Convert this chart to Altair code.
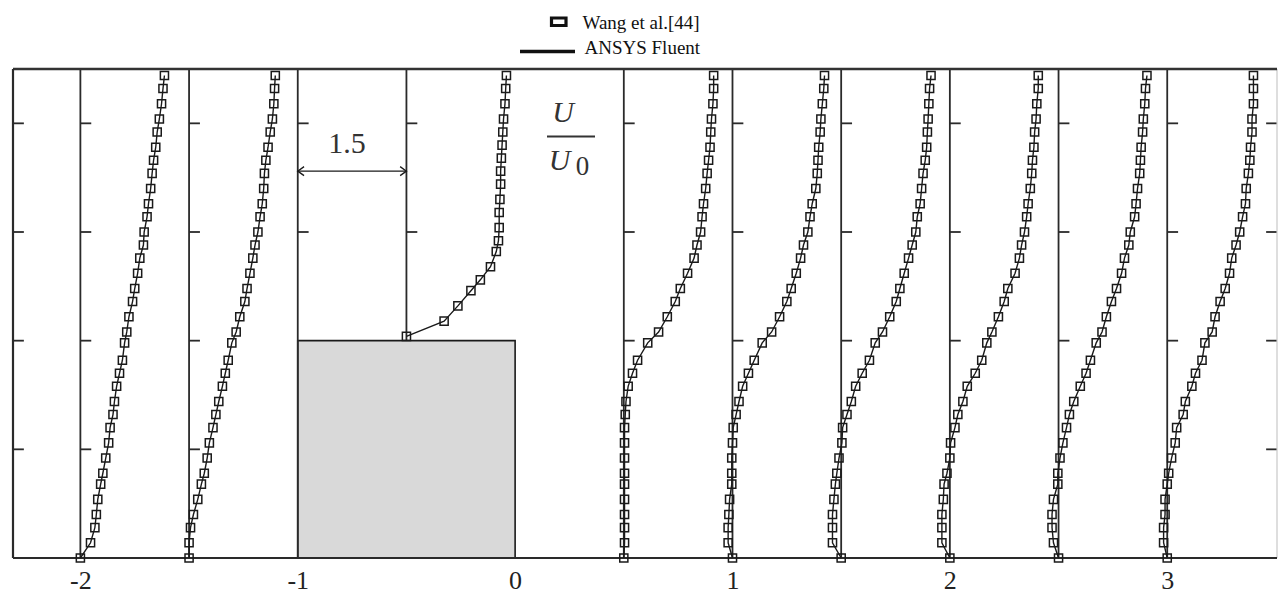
import altair as alt
import pandas as pd

# ---------------------------------------------------------------------------
# Measured / computed streamwise velocity profiles around a surface-mounted
# cube (height H = 1).  Each profile is plotted at its station x/H, shifted by
# U/U0 scaled so that a shift of 0.5 H corresponds to U/U0 = 1.5.
# ---------------------------------------------------------------------------
U_SCALE = 0.5 / 1.5

# measurement heights z/H shared by the approach and wake stations
Z = [0.00, 0.07, 0.14, 0.20, 0.27, 0.34, 0.39, 0.46, 0.53, 0.60, 0.66, 0.72,
     0.79, 0.85, 0.91, 0.99, 1.04, 1.11, 1.18, 1.24, 1.31, 1.38, 1.44, 1.50,
     1.57, 1.63, 1.70, 1.77, 1.83, 1.89, 1.96, 2.02, 2.09, 2.16, 2.22]

# heights above the roof for the station x/H = -0.5
Z_ROOF = [1.02, 1.09, 1.16, 1.23, 1.28, 1.34, 1.41, 1.46, 1.52, 1.59, 1.65,
          1.72, 1.78, 1.84, 1.90, 1.96, 2.02, 2.09, 2.16, 2.22]

U_M20 = [0.00, 0.14, 0.20, 0.22, 0.24, 0.28, 0.31, 0.35, 0.39, 0.41, 0.45, 0.47,
         0.50, 0.54, 0.58, 0.61, 0.64, 0.67, 0.72, 0.75, 0.79, 0.82, 0.87, 0.88,
         0.92, 0.94, 0.97, 0.99, 1.01, 1.04, 1.06, 1.09, 1.12, 1.14, 1.16]
U_M15 = [0.00, 0.00, 0.02, 0.06, 0.12, 0.17, 0.21, 0.25, 0.28, 0.33, 0.37, 0.41,
         0.46, 0.50, 0.54, 0.59, 0.65, 0.70, 0.77, 0.80, 0.84, 0.88, 0.91, 0.95,
         0.98, 1.01, 1.03, 1.04, 1.06, 1.09, 1.12, 1.15, 1.17, 1.18, 1.19]
U_M05 = [0.00, 0.52, 0.71, 0.89, 1.02, 1.16, 1.24, 1.27, 1.28, 1.28, 1.29, 1.30,
         1.30, 1.31, 1.32, 1.33, 1.34, 1.36, 1.37, 1.38]
U_P05 = [0.00, 0.01, 0.01, 0.01, 0.01, 0.01, 0.01, 0.01, 0.01, 0.01, 0.02, 0.03,
         0.06, 0.12, 0.19, 0.33, 0.48, 0.60, 0.71, 0.78, 0.88, 0.97, 1.01, 1.06,
         1.08, 1.10, 1.13, 1.15, 1.17, 1.19, 1.20, 1.21, 1.23, 1.24, 1.24]
U_P10 = [0.00, -0.06, -0.06, -0.05, -0.04, -0.01, -0.01, -0.01, 0.00, 0.01, 0.05,
         0.09, 0.14, 0.22, 0.30, 0.41, 0.54, 0.65, 0.75, 0.81, 0.88, 0.94, 0.98,
         1.04, 1.07, 1.10, 1.15, 1.17, 1.18, 1.19, 1.21, 1.22, 1.24, 1.26, 1.27]
U_P15 = [0.00, -0.12, -0.12, -0.12, -0.10, -0.08, -0.06, -0.03, 0.01, 0.02, 0.08,
         0.14, 0.20, 0.29, 0.39, 0.47, 0.57, 0.67, 0.76, 0.81, 0.87, 0.93, 0.98,
         1.03, 1.05, 1.09, 1.11, 1.13, 1.16, 1.18, 1.19, 1.20, 1.21, 1.22, 1.24]
U_P20 = [0.00, -0.11, -0.11, -0.11, -0.09, -0.08, -0.04, 0.00, 0.01, 0.07, 0.11,
         0.18, 0.24, 0.35, 0.44, 0.51, 0.58, 0.67, 0.75, 0.80, 0.90, 0.96, 0.99,
         1.03, 1.06, 1.08, 1.11, 1.13, 1.14, 1.16, 1.17, 1.19, 1.20, 1.22, 1.22]
U_P25 = [0.00, -0.07, -0.09, -0.09, -0.07, -0.01, -0.01, 0.02, 0.06, 0.11, 0.15,
         0.21, 0.30, 0.38, 0.44, 0.52, 0.60, 0.66, 0.73, 0.80, 0.87, 0.91, 0.97,
         0.99, 1.05, 1.07, 1.09, 1.12, 1.13, 1.14, 1.16, 1.17, 1.19, 1.20, 1.22]
U_P30 = [0.00, -0.05, -0.05, -0.03, -0.03, 0.00, 0.02, 0.06, 0.11, 0.13, 0.22,
         0.25, 0.34, 0.39, 0.48, 0.52, 0.62, 0.66, 0.73, 0.80, 0.86, 0.89, 0.95,
         1.00, 1.04, 1.08, 1.09, 1.12, 1.14, 1.15, 1.17, 1.17, 1.19, 1.19, 1.19]

PROFILES = [
    (-2.0, Z, U_M20), (-1.5, Z, U_M15), (-0.5, Z_ROOF, U_M05),
    (0.5, Z, U_P05), (1.0, Z, U_P10), (1.5, Z, U_P15),
    (2.0, Z, U_P20), (2.5, Z, U_P25), (3.0, Z, U_P30),
]

# station lines: x/H and the height each line starts from
STATIONS = [-2.0, -1.5, -1.0, -0.5, 0.5, 1.0, 1.5, 2.0, 2.5, 3.0]
STATION_BASE = [0, 0, 0, 1, 0, 0, 0, 0, 0, 0]

X_TICKS = [-2, -1, 0, 1, 2, 3]
LEGEND_LABELS = ["Wang et al.[44]", "ANSYS Fluent"]
SCALE_LABEL = "1.5"

X_DOMAIN = [-2.31, 3.505]
Y_DOMAIN = [0.0, 2.25]
W, H = 1264, 489
SERIF = "Liberation Serif"
INK = "#1a1a1a"

xs = alt.Scale(domain=X_DOMAIN, nice=False, zero=False)
ys = alt.Scale(domain=Y_DOMAIN, nice=False, zero=False)

# ---- data frames ----------------------------------------------------------
rows = []
for st, zz, uu in PROFILES:
    for k, (z, u) in enumerate(zip(zz, uu)):
        rows.append({"station": st, "k": k, "z": z, "u": u, "x": st + u * U_SCALE})
prof = pd.DataFrame(rows)

stations = pd.DataFrame({"x": STATIONS, "y": STATION_BASE,
                         "y2": [Y_DOMAIN[1]] * len(STATIONS)})

TICK_LEN = 0.05
tick_rows = []
for lv in [0.5, 1.0, 1.5, 2.0]:
    tick_rows.append({"x": X_DOMAIN[0], "x2": X_DOMAIN[0] + TICK_LEN, "y": lv})
    tick_rows.append({"x": X_DOMAIN[1], "x2": X_DOMAIN[1] - TICK_LEN, "y": lv})
    for st in [-2.0, -1.5]:
        tick_rows.append({"x": st, "x2": st + TICK_LEN, "y": lv})
for lv in [1.5, 2.0]:
    for st in [-1.0, -0.5]:
        tick_rows.append({"x": st, "x2": st + TICK_LEN, "y": lv})
for lv in [1.0, 1.5, 2.0]:
    for st in [0.5, 1.0, 1.5, 2.0, 2.5, 3.0]:
        tick_rows.append({"x": st, "x2": st + TICK_LEN, "y": lv})
ticks = pd.DataFrame(tick_rows)

cube = pd.DataFrame({"x": [-1.0], "x2": [0.0], "y": [0.0], "y2": [1.0]})
one = pd.DataFrame({"k": [0]})

# ---- layers ---------------------------------------------------------------
x_axis = alt.Axis(values=X_TICKS, title=None, grid=False, ticks=False,
                  domain=False, labelFont=SERIF, labelFontSize=26,
                  labelColor="#222", labelPadding=9,
                  labelExpr="datum.value < 0 ? '-' + abs(datum.value) : '' + datum.value")

box = alt.Chart(cube).mark_rect(fill="#d9d9d9", stroke=INK, strokeWidth=1.6).encode(
    x=alt.X("x:Q", scale=xs, axis=x_axis), x2="x2:Q",
    y=alt.Y("y:Q", scale=ys, axis=None), y2="y2:Q")

station_lines = alt.Chart(stations).mark_rule(color="#2a2a2a", strokeWidth=1.8).encode(
    x="x:Q", y="y:Q", y2="y2:Q")

tick_marks = alt.Chart(ticks).mark_rule(color="#2a2a2a", strokeWidth=1.8).encode(
    x="x:Q", x2="x2:Q", y="y:Q")

frame_top = alt.Chart(one).mark_rule(color="#333", strokeWidth=2.6).encode(
    x=alt.value(0), x2=alt.value(W), y=alt.value(0))
frame_bottom = alt.Chart(one).mark_rule(color="#2a2a2a", strokeWidth=2.2).encode(
    x=alt.value(0), x2=alt.value(W), y=alt.value(H))
frame_left = alt.Chart(one).mark_rule(color="#2a2a2a", strokeWidth=2.2).encode(
    x=alt.value(0), y=alt.value(0), y2=alt.value(H))
frame_right = alt.Chart(one).mark_rule(color="#c8c8c8", strokeWidth=1.2).encode(
    x=alt.value(W), y=alt.value(0), y2=alt.value(H))

cfd_lines = alt.Chart(prof).mark_line(color=INK, strokeWidth=1.4).encode(
    x="x:Q", y="z:Q", detail="station:N", order="k:Q")

exp_points = alt.Chart(prof).mark_point(shape="square", filled=False, size=66,
                                        color=INK, strokeWidth=1.5, opacity=1).encode(
    x="x:Q", y="z:Q")

# scale bar: 0.5 H between x/H = -1 and -0.5 stands for U/U0 = 1.5
bar = pd.DataFrame({"x": [-1.0], "x2": [-0.5], "y": [1.78]})
scale_bar = alt.Chart(bar).mark_rule(color=INK, strokeWidth=1.4).encode(
    x="x:Q", x2="x2:Q", y="y:Q")
heads = pd.DataFrame({"x": [-1.0, -0.5], "y": [1.78, 1.78], "side": ["l", "r"]})
head_l = alt.Chart(heads[heads.side == "l"]).mark_point(
    shape="M 1.4 -1 L 0 0 L 1.4 1", size=81, filled=False, color=INK,
    strokeWidth=1.3, opacity=1).encode(x="x:Q", y="y:Q")
head_r = alt.Chart(heads[heads.side == "r"]).mark_point(
    shape="M -1.4 -1 L 0 0 L -1.4 1", size=81, filled=False, color=INK,
    strokeWidth=1.3, opacity=1).encode(x="x:Q", y="y:Q")
scale_text = alt.Chart(pd.DataFrame({"x": [-0.774], "y": [1.862], "t": [SCALE_LABEL]})).mark_text(
    font=SERIF, fontSize=30, color="#333", baseline="alphabetic", align="center").encode(
    x="x:Q", y="y:Q", text="t:N")

# U / U0 label
u_top = alt.Chart(one).mark_text(text="U", font=SERIF, fontStyle="italic", fontSize=30,
                                 color="#333", baseline="alphabetic", align="center").encode(
    x=alt.value(550), y=alt.value(52.5))
u_bar = alt.Chart(one).mark_rule(color="#333", strokeWidth=1.8).encode(
    x=alt.value(534), x2=alt.value(582), y=alt.value(67.5))
u_bot = alt.Chart(one).mark_text(text="U", font=SERIF, fontStyle="italic", fontSize=30,
                                 color="#333", baseline="alphabetic", align="center").encode(
    x=alt.value(546.5), y=alt.value(101))
u_sub = alt.Chart(one).mark_text(text="0", font=SERIF, fontSize=27,
                                 color="#333", baseline="alphabetic", align="center").encode(
    x=alt.value(569.5), y=alt.value(106))

# legend
leg_box = alt.Chart(one).mark_rect(fill="white", stroke="#111", strokeWidth=3.2).encode(
    x=alt.value(538.5), x2=alt.value(553), y=alt.value(-51), y2=alt.value(-43.5))
leg_line = alt.Chart(one).mark_rule(color="#111", strokeWidth=3.3).encode(
    x=alt.value(507), x2=alt.value(562), y=alt.value(-17.5))
leg_t1 = alt.Chart(pd.DataFrame({"t": [LEGEND_LABELS[0]]})).mark_text(
    font=SERIF, fontSize=19, color="#111", align="left", baseline="alphabetic").encode(
    x=alt.value(569.5), y=alt.value(-40), text="t:N")
leg_t2 = alt.Chart(pd.DataFrame({"t": [LEGEND_LABELS[1]]})).mark_text(
    font=SERIF, fontSize=19, color="#111", align="left", baseline="alphabetic").encode(
    x=alt.value(571.5), y=alt.value(-15), text="t:N")

chart = alt.layer(
    box, station_lines, tick_marks, frame_right, frame_top, frame_bottom, frame_left,
    cfd_lines, exp_points, scale_bar, head_l, head_r, scale_text,
    u_top, u_bar, u_bot, u_sub, leg_box, leg_line, leg_t1, leg_t2,
).properties(
    width=W, height=H,
    autosize=alt.AutoSizeParams(type="none"),
    padding={"left": 13, "top": 69, "right": 5, "bottom": 37},
    background="white",
).configure_view(stroke=None)

chart.save("out.html", embed_options={"renderer": "svg", "actions": False})
